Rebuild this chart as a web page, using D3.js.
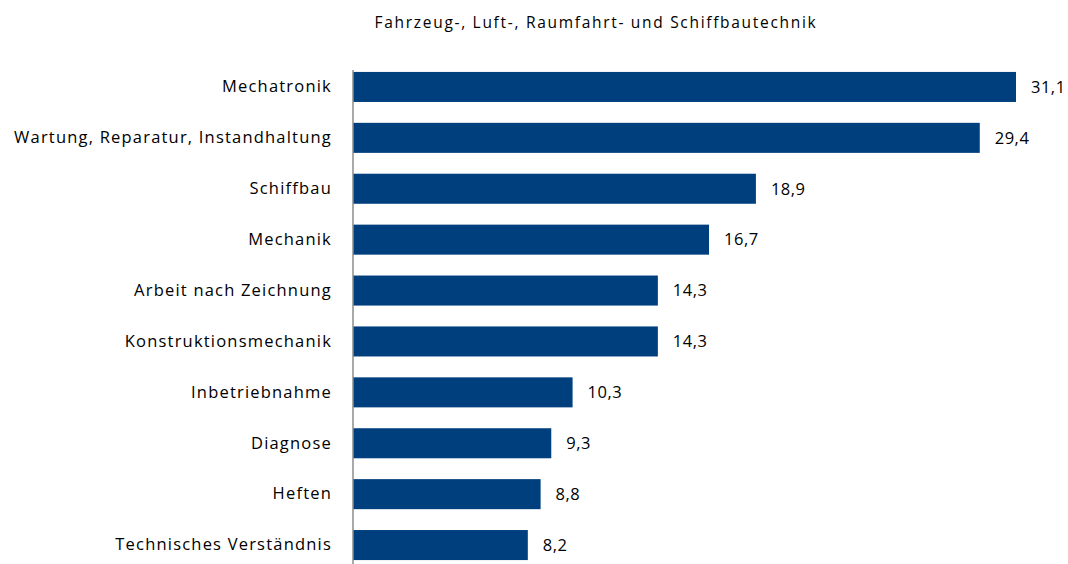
<!DOCTYPE html>
<html><head><meta charset="utf-8">
<script src="https://cdn.jsdelivr.net/npm/d3@7"></script>
<style>body{margin:0;background:#fff;}svg text{font-family:"Open Sans",sans-serif;fill:#000;}</style>
</head><body><svg id="c" width="1068" height="564"></svg>
<script>
const title = "Fahrzeug-, Luft-, Raumfahrt- und Schiffbautechnik";
const categories = ["Mechatronik","Wartung, Reparatur, Instandhaltung","Schiffbau","Mechanik","Arbeit nach Zeichnung","Konstruktionsmechanik","Inbetriebnahme","Diagnose","Heften","Technisches Verständnis"];
const values = [31.1,29.4,18.9,16.7,14.3,14.3,10.3,9.3,8.8,8.2];

const svg = d3.select("#c");
const x0 = 353;
const x = d3.scaleLinear().domain([0,31.1]).range([x0,1016]);
const y = d3.scaleBand().domain(categories).range([61.5,570.5]).paddingInner(0.41).paddingOuter(0.205);

svg.append("text").attr("x",596).attr("y",28).attr("text-anchor","middle").attr("font-size",15.5)
  .attr("letter-spacing",1.7).text(title);

svg.selectAll("rect.bar").data(values).join("rect").attr("class","bar")
  .attr("x",x(0)).attr("y",(d,i)=>y(categories[i])).attr("width",d=>x(d)-x(0)).attr("height",y.bandwidth())
  .attr("fill","#003f7d");

const ax = svg.append("g").attr("transform",`translate(${x0},0)`).call(d3.axisLeft(y).tickSize(0).tickPadding(21));
ax.select(".domain").attr("stroke","#8c8c8c").attr("stroke-width",1.5).attr("d","M0,70V564");
ax.selectAll("text").attr("font-size",16.5).attr("font-family","Open Sans").attr("fill","#000").attr("letter-spacing",1.2);

svg.selectAll("text.val").data(values).join("text").attr("class","val")
  .attr("x",d=>x(d)+15).attr("y",(d,i)=>y(categories[i])+y.bandwidth()/2).attr("dy","0.35em")
  .attr("font-size",16.5).attr("letter-spacing",0.5).text(d=>d3.format(".1f")(d).replace(".",","));
</script></body></html>
